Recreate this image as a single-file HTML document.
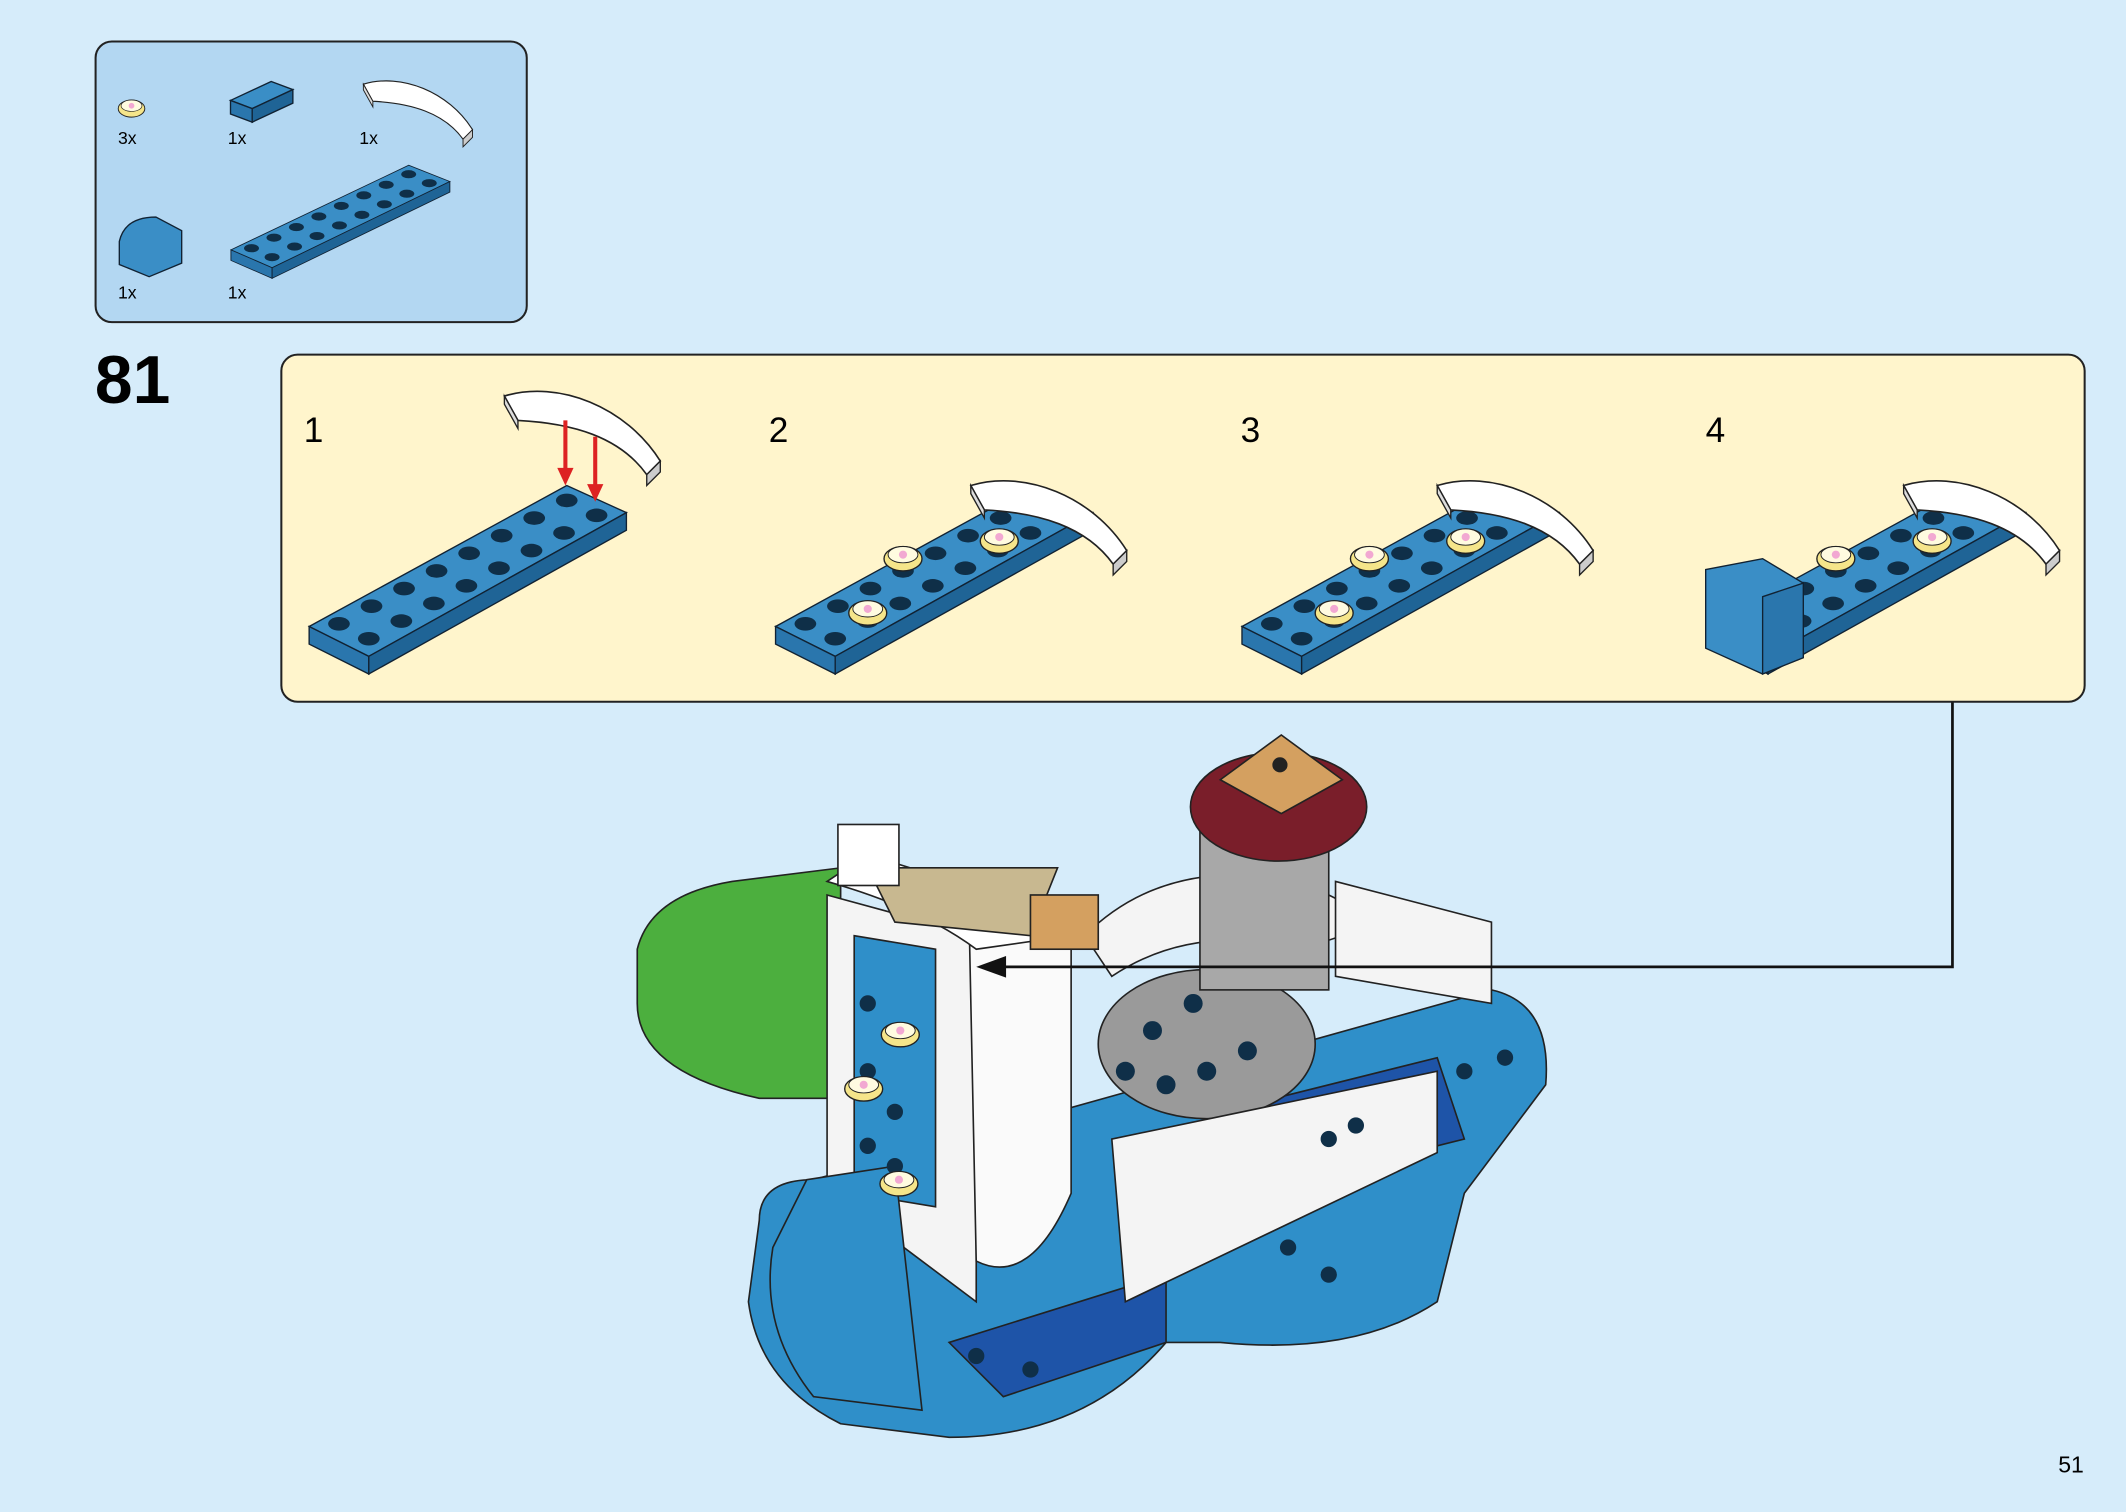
<!DOCTYPE html>
<html><head><meta charset="utf-8"><style>
html,body{margin:0;padding:0;background:#d6ecfa;}
svg{display:block}
text{font-family:"Liberation Sans",sans-serif;}
</style></head><body>
<svg width="2126" height="1512" viewBox="0 0 1568 1115" xmlns="http://www.w3.org/2000/svg">
<defs>
<g id="plate">
  <polygon points="228,462 418,358 462,378 272,484" fill="#3a8ec6" stroke="#123" stroke-width="1"/>
  <polygon points="228,462 272,484 272,497 228,475" fill="#2a76ad" stroke="#123" stroke-width="1"/>
  <polygon points="272,484 462,378 462,391 272,497" fill="#1f6496" stroke="#123" stroke-width="1"/>
  <g fill="#0f2f48">
    <ellipse cx="250" cy="460" rx="8" ry="5"/><ellipse cx="274" cy="447" rx="8" ry="5"/><ellipse cx="298" cy="434" rx="8" ry="5"/><ellipse cx="322" cy="421" rx="8" ry="5"/><ellipse cx="346" cy="408" rx="8" ry="5"/><ellipse cx="370" cy="395" rx="8" ry="5"/><ellipse cx="394" cy="382" rx="8" ry="5"/><ellipse cx="418" cy="369" rx="8" ry="5"/>
    <ellipse cx="272" cy="471" rx="8" ry="5"/><ellipse cx="296" cy="458" rx="8" ry="5"/><ellipse cx="320" cy="445" rx="8" ry="5"/><ellipse cx="344" cy="432" rx="8" ry="5"/><ellipse cx="368" cy="419" rx="8" ry="5"/><ellipse cx="392" cy="406" rx="8" ry="5"/><ellipse cx="416" cy="393" rx="8" ry="5"/><ellipse cx="440" cy="380" rx="8" ry="5"/>
  </g>
</g>
<g id="slope">
  <path d="M0,0 C40,-12 90,8 115,48 L105,58 C85,30 50,20 10,18 Z" fill="#fff" stroke="#222" stroke-width="1.2"/>
  <path d="M0,0 L10,18 L10,24 L0,6 Z" fill="#ddd" stroke="#222"/>
  <path d="M105,58 L115,48 L115,56 L105,66 Z" fill="#ccc" stroke="#222"/>
</g>
<g id="tile"><ellipse cx="0" cy="0" rx="14" ry="9" fill="#f5e58a" stroke="#222"/><ellipse cx="0" cy="-3" rx="11" ry="6" fill="#fffbe0" stroke="#222" stroke-width=".7"/><circle cx="0" cy="-3" r="3" fill="#f2a8d2"/></g>
</defs>

<!-- parts box -->
<rect x="70.5" y="30.5" width="318" height="207" rx="12" fill="#b3d7f2" stroke="#222" stroke-width="1.5"/>
<use href="#tile" transform="translate(97,80) scale(.7)"/>
<text x="87" y="106" font-size="13">3x</text>
<polygon points="170,74 200,60 216,66 186,80" fill="#3a8ec6" stroke="#123"/><polygon points="170,74 186,80 186,90 170,84" fill="#2a76ad" stroke="#123"/><polygon points="186,80 216,66 216,76 186,90" fill="#1f6496" stroke="#123"/>
<text x="168" y="106" font-size="13">1x</text>
<use href="#slope" transform="translate(268,62) scale(.7)"/>
<text x="265" y="106" font-size="13">1x</text>
<path d="M88,178 Q92,160 115,160 L134,170 L134,194 L110,204 L88,195 Z" fill="#3a8ec6" stroke="#123"/>
<text x="87" y="220" font-size="13">1x</text>
<use href="#plate" transform="translate(13,-93) scale(0.69,0.6)"/>
<text x="168" y="220" font-size="13">1x</text>

<text x="70" y="297" font-size="50" font-weight="bold">81</text>

<!-- steps box -->
<rect x="207.5" y="261.5" width="1330" height="256" rx="12" fill="#fff5cc" stroke="#222" stroke-width="1.5"/>
<text x="224" y="326" font-size="26">1</text>
<text x="567" y="326" font-size="26">2</text>
<text x="915" y="326" font-size="26">3</text>
<text x="1258" y="326" font-size="26">4</text>

<use href="#plate"/>
<use href="#slope" transform="translate(372,292)"/>
<line x1="417" y1="310" x2="417" y2="350" stroke="#d22" stroke-width="3"/><polygon points="411,345 423,345 417,358" fill="#d22"/>
<line x1="439" y1="322" x2="439" y2="362" stroke="#d22" stroke-width="3"/><polygon points="433,357 445,357 439,370" fill="#d22"/>

<use href="#plate" transform="translate(344,0)"/>
<use href="#slope" transform="translate(716,358)"/>
<use href="#tile" transform="translate(666,412)"/><use href="#tile" transform="translate(737,399)"/><use href="#tile" transform="translate(640,452)"/>

<use href="#plate" transform="translate(688,0)"/>
<use href="#slope" transform="translate(1060,358)"/>
<use href="#tile" transform="translate(1010,412)"/><use href="#tile" transform="translate(1081,399)"/><use href="#tile" transform="translate(984,452)"/>

<use href="#plate" transform="translate(1032,0)"/>
<use href="#slope" transform="translate(1404,358)"/>
<use href="#tile" transform="translate(1354,412)"/><use href="#tile" transform="translate(1425,399)"/>
<path d="M1258,420 L1300,412 L1330,430 L1330,485 L1300,497 L1258,478 Z" fill="#3a8ec6" stroke="#123"/>
<path d="M1300,440 L1330,430 L1330,485 L1300,497 Z" fill="#2a76ad" stroke="#123"/>

<!-- main model rough -->
<g stroke="#222" stroke-width="1.2">
<path d="M470,700 Q480,660 540,650 L620,640 L620,810 L560,810 Q470,790 470,740 Z" fill="#4caf3e"/>
<path d="M560,900 Q560,870 600,870 L1100,730 Q1145,740 1140,800 L1080,880 L1060,960 Q1000,1000 900,990 L860,990 Q800,1060 700,1060 L620,1050 Q560,1020 552,960 Z" fill="#2f8fc9"/>
<path d="M700,990 L860,940 L860,990 L740,1030 Z" fill="#1e54a8"/>
<path d="M900,820 L1060,780 L1080,840 L920,880 Z" fill="#1e54a8"/>
<ellipse cx="890" cy="770" rx="80" ry="55" fill="#9a9a9a"/>
<path d="M800,690 Q860,630 960,650 L1020,680 L960,700 Q880,680 820,720 Z" fill="#f4f4f4"/>
<path d="M985,650 L1100,680 L1100,740 L985,720 Z" fill="#f4f4f4"/>
<path d="M820,840 L1060,790 L1060,850 L830,960 Z" fill="#f4f4f4"/>
<rect x="885" y="610" width="95" height="120" fill="#a8a8a8"/>
<ellipse cx="943" cy="595" rx="65" ry="40" fill="#7a1e2a"/>
<polygon points="900,575 945,542 990,575 945,600" fill="#d4a060"/>
<circle cx="944" cy="564" r="5" fill="#222"/>
<path d="M610,660 L720,690 L720,960 L640,900 L610,870 Z" fill="#f4f4f4"/>
<path d="M630,690 L690,700 L690,890 L630,880 Z" fill="#2f8fc9"/>
<path d="M715,690 L790,690 L790,880 Q760,950 720,930 Z" fill="#fafafa"/>
<path d="M610,650 Q680,670 720,700 L790,690 L780,670 Q700,650 640,630 Z" fill="#fff"/>
<path d="M640,640 L780,640 L760,690 L660,680 Z" fill="#c8b890"/>
<rect x="618" y="608" width="45" height="45" fill="#fff"/>
<path d="M595,870 L660,860 L680,1040 L600,1030 Q560,980 570,920 Z" fill="#2f8fc9"/>
<rect x="760" y="660" width="50" height="40" fill="#d4a060"/>
</g>
<g fill="#0f2f48">
<circle cx="640" cy="740" r="6"/><circle cx="660" cy="765" r="6"/><circle cx="640" cy="790" r="6"/><circle cx="660" cy="820" r="6"/><circle cx="640" cy="845" r="6"/><circle cx="660" cy="860" r="6"/>
<circle cx="830" cy="790" r="7"/><circle cx="860" cy="800" r="7"/><circle cx="890" cy="790" r="7"/><circle cx="920" cy="775" r="7"/><circle cx="850" cy="760" r="7"/><circle cx="880" cy="740" r="7"/>
<circle cx="980" cy="840" r="6"/><circle cx="1000" cy="830" r="6"/><circle cx="1080" cy="790" r="6"/><circle cx="1110" cy="780" r="6"/>
<circle cx="720" cy="1000" r="6"/><circle cx="760" cy="1010" r="6"/><circle cx="950" cy="920" r="6"/><circle cx="980" cy="940" r="6"/>
</g>
<use href="#tile" transform="translate(664,763)"/><use href="#tile" transform="translate(637,803)"/><use href="#tile" transform="translate(663,873)"/>

<!-- connector (on top) -->
<polyline points="1440,518 1440,713 730,713" fill="none" stroke="#111" stroke-width="2"/>
<polygon points="720,713 742,705 742,721" fill="#111"/>

<text x="1518" y="1086" font-size="17">51</text>
</svg>
</body></html>
